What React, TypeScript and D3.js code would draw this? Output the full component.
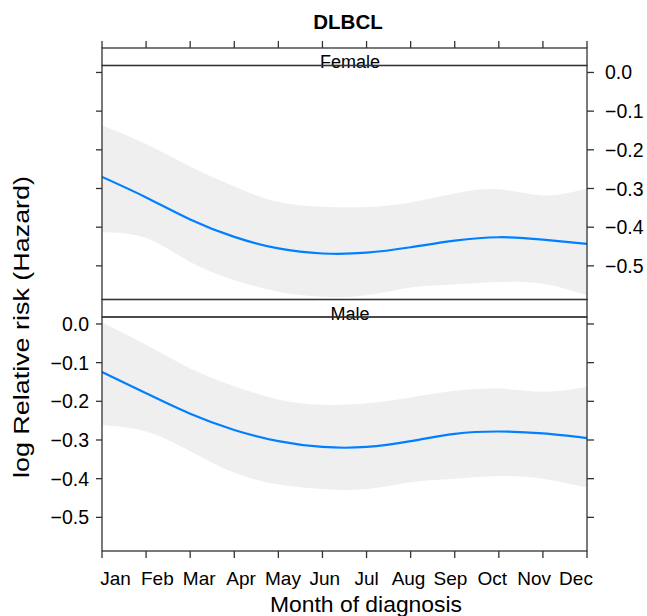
import * as d3 from 'd3'

const months = ['Jan', 'Feb', 'Mar', 'Apr', 'May', 'Jun', 'Jul', 'Aug', 'Sep', 'Oct', 'Nov', 'Dec']
const monthIdx = months.map((_, i) => i + 1)
const yTicks = [0, -0.1, -0.2, -0.3, -0.4, -0.5]

// One value per month
const femaleFit = [-0.270, -0.323, -0.380, -0.425, -0.455, -0.468, -0.466, -0.452, -0.435, -0.426, -0.432, -0.443]
const femaleUpper = [-0.137, -0.185, -0.243, -0.295, -0.335, -0.347, -0.348, -0.336, -0.313, -0.302, -0.318, -0.300]
const femaleLower = [-0.413, -0.428, -0.490, -0.537, -0.567, -0.580, -0.576, -0.556, -0.548, -0.542, -0.546, -0.576]

const maleFit = [-0.124, -0.179, -0.232, -0.274, -0.303, -0.318, -0.318, -0.303, -0.284, -0.278, -0.283, -0.295]
const maleUpper = [0.004, -0.054, -0.115, -0.161, -0.195, -0.209, -0.205, -0.190, -0.173, -0.167, -0.175, -0.163]
const maleLower = [-0.261, -0.278, -0.329, -0.385, -0.415, -0.427, -0.427, -0.409, -0.400, -0.393, -0.400, -0.423]

const panels = [
  { name: 'Female', fit: femaleFit, upper: femaleUpper, lower: femaleLower },
  { name: 'Male', fit: maleFit, upper: maleUpper, lower: maleLower },
]

const W = 647
const H = 616
const left = 102
const right = 587
const stripH = 17.5
const panelH = 234
const top0 = 48
const FONT = 'Liberation Sans, Arial, Helvetica, sans-serif'
const INK = '#333'

const fmt = (t: number) => d3.format('.1f')(t).replace('-', '\u2212')

export default function App() {
  const x = d3.scaleLinear().domain([1, 12]).range([left, right])
  // month names sit slightly tighter than the ticks in the original
  const xLab = d3.scalePoint<string>().domain(months).range([115.5, 576])
  // panel 0 = Female (top), panel 1 = Male (bottom)
  const panelTop = (i: number) => top0 + i * (stripH + panelH) + stripH
  const yFor = (i: number) =>
    d3.scaleLinear().domain([-0.587, 0.018]).range([panelTop(i) + panelH, panelTop(i)])

  const bottom = panelTop(1) + panelH
  const midX = 348

  return (
    <div style={{ position: 'absolute', left: 0, top: 0 }}>
      <svg width={W} height={H} style={{ display: 'block', background: '#fff' }} fontFamily={FONT}>
        <defs>
          {panels.map((p, i) => (
            <clipPath id={`clip${i}`} key={p.name}>
              <rect x={left} y={panelTop(i)} width={right - left} height={panelH} />
            </clipPath>
          ))}
        </defs>

        <text x={midX} y={29} textAnchor="middle" fontWeight="bold" fontSize={20.5} fill="#000">
          DLBCL
        </text>

        {panels.map((p, i) => {
          const y = yFor(i)
          const band = d3
            .area<number>()
            .x((_, k) => x(monthIdx[k]))
            .y0((_, k) => y(p.lower[k]))
            .y1((_, k) => y(p.upper[k]))
            .curve(d3.curveNatural)
          const line = d3
            .line<number>()
            .x((_, k) => x(monthIdx[k]))
            .y((d) => y(d))
            .curve(d3.curveNatural)
          const pt = panelTop(i)
          const st = pt - stripH
          const labelsLeft = i === 1
          return (
            <g key={p.name}>
              <g clipPath={`url(#clip${i})`}>
                <path d={band(p.fit) ?? ''} fill="#efefef" stroke="none" />
                <path d={line(p.fit) ?? ''} fill="none" stroke="#0080ff" strokeWidth={2.2} />
              </g>
              {/* strip */}
              <rect x={left} y={st} width={right - left} height={stripH} fill="none" stroke={INK} strokeWidth={1.3} />
              <text x={midX + 2} y={pt + 2.5} textAnchor="middle" fontSize={18} fill="#000">
                {p.name}
              </text>
              {/* panel box */}
              <rect x={left} y={pt} width={right - left} height={panelH} fill="none" stroke={INK} strokeWidth={1.3} />
              {yTicks.map((t) => (
                <g key={t}>
                  <line x1={left - 6} x2={left} y1={y(t)} y2={y(t)} stroke={INK} strokeWidth={1.3} />
                  <line x1={right} x2={right + 7} y1={y(t)} y2={y(t)} stroke={INK} strokeWidth={1.3} />
                  {labelsLeft ? (
                    <text x={89} y={y(t)} dy="0.36em" textAnchor="end" fontSize={19.5} fill="#000">
                      {fmt(t)}
                    </text>
                  ) : (
                    <text x={605} y={y(t)} dy="0.36em" textAnchor="start" fontSize={19.5} fill="#000">
                      {fmt(t)}
                    </text>
                  )}
                </g>
              ))}
            </g>
          )
        })}

        {monthIdx.map((m) => (
          <g key={m}>
            <line x1={x(m)} x2={x(m)} y1={top0 - 7} y2={top0} stroke={INK} strokeWidth={1.3} />
            <line x1={x(m)} x2={x(m)} y1={bottom} y2={bottom + 7} stroke={INK} strokeWidth={1.3} />
          </g>
        ))}
        {months.map((mn) => (
          <text key={mn} x={xLab(mn)} y={585} textAnchor="middle" fontSize={19} fill="#000">
            {mn}
          </text>
        ))}

        <text x={366} y={611.5} textAnchor="middle" fontSize={22} textLength={192} lengthAdjust="spacingAndGlyphs" fill="#000">
          Month of diagnosis
        </text>
        <text
          transform={`translate(28.5,${327}) rotate(-90)`}
          textAnchor="middle"
          fontSize={22}
          textLength={302}
          lengthAdjust="spacingAndGlyphs"
          fill="#000"
        >
          log Relative risk (Hazard)
        </text>
      </svg>
    </div>
  )
}
